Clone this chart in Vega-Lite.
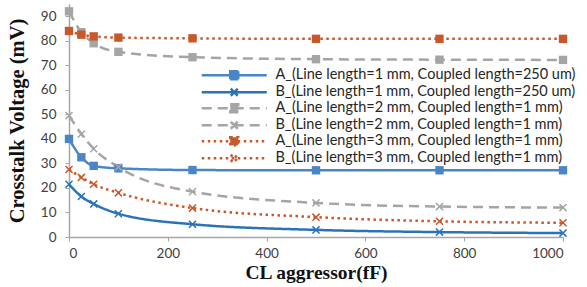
{
  "$schema": "https://vega.github.io/schema/vega-lite/v6.json",
  "width": 494,
  "height": 233,
  "autosize": {"type": "none"},
  "padding": {"left": 69, "top": 4, "right": 24, "bottom": 50},
  "background": "white",
  "config": {
    "view": {"stroke": null},
    "axis": {"grid": false, "domainColor": "#a6a6a6", "tickColor": "#a6a6a6", "domainWidth": 1.5, "tickSize": 4, "labelFont": "Lato", "labelFontSize": 13.5, "labelColor": "#404040", "titleFont": "Liberation Serif", "titleFontWeight": "bold", "titleFontSize": 19.5, "titleColor": "#111111"}
  },
  "data": {"values": [
    {"x": 0, "s": "A_(Line length=1 mm, Coupled length=250 um)", "m": "sq", "v": 40},
    {"x": 25, "s": "A_(Line length=1 mm, Coupled length=250 um)", "m": "sq", "v": 32.5},
    {"x": 50, "s": "A_(Line length=1 mm, Coupled length=250 um)", "m": "sq", "v": 29},
    {"x": 100, "s": "A_(Line length=1 mm, Coupled length=250 um)", "m": "sq", "v": 28},
    {"x": 250, "s": "A_(Line length=1 mm, Coupled length=250 um)", "m": "sq", "v": 27.3},
    {"x": 500, "s": "A_(Line length=1 mm, Coupled length=250 um)", "m": "sq", "v": 27.2},
    {"x": 750, "s": "A_(Line length=1 mm, Coupled length=250 um)", "m": "sq", "v": 27.2},
    {"x": 1000, "s": "A_(Line length=1 mm, Coupled length=250 um)", "m": "sq", "v": 27.2},
    {"x": 0, "s": "B_(Line length=1 mm, Coupled length=250 um)", "m": "x", "v": 21.5},
    {"x": 25, "s": "B_(Line length=1 mm, Coupled length=250 um)", "m": "x", "v": 16.5},
    {"x": 50, "s": "B_(Line length=1 mm, Coupled length=250 um)", "m": "x", "v": 13.5},
    {"x": 100, "s": "B_(Line length=1 mm, Coupled length=250 um)", "m": "x", "v": 9.5},
    {"x": 250, "s": "B_(Line length=1 mm, Coupled length=250 um)", "m": "x", "v": 5.2},
    {"x": 500, "s": "B_(Line length=1 mm, Coupled length=250 um)", "m": "x", "v": 2.9},
    {"x": 750, "s": "B_(Line length=1 mm, Coupled length=250 um)", "m": "x", "v": 2.0},
    {"x": 1000, "s": "B_(Line length=1 mm, Coupled length=250 um)", "m": "x", "v": 1.6},
    {"x": 0, "s": "A_(Line length=2 mm, Coupled length=1 mm)", "m": "sq", "v": 92},
    {"x": 25, "s": "A_(Line length=2 mm, Coupled length=1 mm)", "m": "sq", "v": 83.5},
    {"x": 50, "s": "A_(Line length=2 mm, Coupled length=1 mm)", "m": "sq", "v": 79},
    {"x": 100, "s": "A_(Line length=2 mm, Coupled length=1 mm)", "m": "sq", "v": 75.5},
    {"x": 250, "s": "A_(Line length=2 mm, Coupled length=1 mm)", "m": "sq", "v": 73.3},
    {"x": 500, "s": "A_(Line length=2 mm, Coupled length=1 mm)", "m": "sq", "v": 72.5},
    {"x": 750, "s": "A_(Line length=2 mm, Coupled length=1 mm)", "m": "sq", "v": 72.3},
    {"x": 1000, "s": "A_(Line length=2 mm, Coupled length=1 mm)", "m": "sq", "v": 72.2},
    {"x": 0, "s": "B_(Line length=2 mm, Coupled length=1 mm)", "m": "x", "v": 49.5},
    {"x": 25, "s": "B_(Line length=2 mm, Coupled length=1 mm)", "m": "x", "v": 42},
    {"x": 50, "s": "B_(Line length=2 mm, Coupled length=1 mm)", "m": "x", "v": 36},
    {"x": 100, "s": "B_(Line length=2 mm, Coupled length=1 mm)", "m": "x", "v": 28.5},
    {"x": 250, "s": "B_(Line length=2 mm, Coupled length=1 mm)", "m": "x", "v": 18.5},
    {"x": 500, "s": "B_(Line length=2 mm, Coupled length=1 mm)", "m": "x", "v": 13.9},
    {"x": 750, "s": "B_(Line length=2 mm, Coupled length=1 mm)", "m": "x", "v": 12.4},
    {"x": 1000, "s": "B_(Line length=2 mm, Coupled length=1 mm)", "m": "x", "v": 12},
    {"x": 0, "s": "A_(Line length=3 mm, Coupled length=1 mm)", "m": "sq", "v": 84},
    {"x": 25, "s": "A_(Line length=3 mm, Coupled length=1 mm)", "m": "sq", "v": 82.5},
    {"x": 50, "s": "A_(Line length=3 mm, Coupled length=1 mm)", "m": "sq", "v": 81.8},
    {"x": 100, "s": "A_(Line length=3 mm, Coupled length=1 mm)", "m": "sq", "v": 81.3},
    {"x": 250, "s": "A_(Line length=3 mm, Coupled length=1 mm)", "m": "sq", "v": 81},
    {"x": 500, "s": "A_(Line length=3 mm, Coupled length=1 mm)", "m": "sq", "v": 80.8},
    {"x": 750, "s": "A_(Line length=3 mm, Coupled length=1 mm)", "m": "sq", "v": 80.8},
    {"x": 1000, "s": "A_(Line length=3 mm, Coupled length=1 mm)", "m": "sq", "v": 80.8},
    {"x": 0, "s": "B_(Line length=3 mm, Coupled length=1 mm)", "m": "x", "v": 27.5},
    {"x": 25, "s": "B_(Line length=3 mm, Coupled length=1 mm)", "m": "x", "v": 24.3},
    {"x": 50, "s": "B_(Line length=3 mm, Coupled length=1 mm)", "m": "x", "v": 21.5},
    {"x": 100, "s": "B_(Line length=3 mm, Coupled length=1 mm)", "m": "x", "v": 18},
    {"x": 250, "s": "B_(Line length=3 mm, Coupled length=1 mm)", "m": "x", "v": 11.8},
    {"x": 500, "s": "B_(Line length=3 mm, Coupled length=1 mm)", "m": "x", "v": 8.1},
    {"x": 750, "s": "B_(Line length=3 mm, Coupled length=1 mm)", "m": "x", "v": 6.4},
    {"x": 1000, "s": "B_(Line length=3 mm, Coupled length=1 mm)", "m": "x", "v": 5.8}
  ]},
  "encoding": {
    "x": {"field": "x", "type": "quantitative", "scale": {"domain": [0, 1000], "nice": false}, "axis": {"values": [0, 200, 400, 600, 800, 1000], "format": "d", "title": "CL aggressor(fF)", "labelPadding": 5, "titlePadding": 4}},
    "y": {"field": "v", "type": "quantitative", "scale": {"domain": [0, 95], "nice": false}, "axis": {"values": [0, 10, 20, 30, 40, 50, 60, 70, 80, 90], "title": "Crosstalk Voltage (mV)", "labelPadding": 9, "titlePadding": 13, "titleFontSize": 20.5}},
    "color": {"field": "s", "type": "nominal", "title": null,
      "scale": {"domain": ["A_(Line length=1 mm, Coupled length=250 um)", "B_(Line length=1 mm, Coupled length=250 um)", "A_(Line length=2 mm, Coupled length=1 mm)", "B_(Line length=2 mm, Coupled length=1 mm)", "A_(Line length=3 mm, Coupled length=1 mm)", "B_(Line length=3 mm, Coupled length=1 mm)"],
        "range": ["#4a86c5", "#2a73b8", "#a5a5a5", "#a5a5a5", "#c8582a", "#c8582a"]},
      "legend": {"orient": "none", "legendX": 158, "legendY": 64, "labelFont": "Lato", "labelFontSize": 14.5, "labelColor": "#262626", "labelLimit": 500, "symbolSize": 100, "symbolStrokeWidth": 2.5, "symbolOpacity": 1, "labelOffset": 34, "rowPadding": -2.3, "padding": 0,
        "encode": {"symbols": {"update": {"fill": {"scale": "color", "field": "value"}, "opacity": {"value": 1}}}}}
    }
  },
  "layer": [
    {
      "mark": {"type": "line", "interpolate": "monotone", "strokeWidth": 2.5},
      "encoding": {
        "strokeDash": {"field": "s", "type": "nominal", "title": null,
          "scale": {"domain": ["A_(Line length=1 mm, Coupled length=250 um)", "B_(Line length=1 mm, Coupled length=250 um)", "A_(Line length=2 mm, Coupled length=1 mm)", "B_(Line length=2 mm, Coupled length=1 mm)", "A_(Line length=3 mm, Coupled length=1 mm)", "B_(Line length=3 mm, Coupled length=1 mm)"],
            "range": [[1, 0], [1, 0], [10, 6], [10, 6], [2.5, 3.5], [2.5, 3.5]]}}
      }
    },
    {
      "transform": [{"filter": "datum.m === 'sq'"}],
      "mark": {"type": "point", "shape": "square", "filled": true, "opacity": 1, "size": 70}
    },
    {
      "transform": [{"filter": "datum.m === 'x'"}],
      "mark": {"type": "point", "shape": "M-1,-1L1,1M-1,1L1,-1", "filled": false, "opacity": 1, "size": 50, "strokeWidth": 1.5}
    },
    {
      "mark": {"type": "point", "opacity": 0, "filled": true},
      "encoding": {
        "shape": {"field": "s", "type": "nominal", "title": null,
          "scale": {"domain": ["A_(Line length=1 mm, Coupled length=250 um)", "B_(Line length=1 mm, Coupled length=250 um)", "A_(Line length=2 mm, Coupled length=1 mm)", "B_(Line length=2 mm, Coupled length=1 mm)", "A_(Line length=3 mm, Coupled length=1 mm)", "B_(Line length=3 mm, Coupled length=1 mm)"],
            "range": ["M-6.5,0H6.5M-0.8,-0.8H0.8V0.8H-0.8Z", "M-6.5,0H6.5M-0.7,-0.7L0.7,0.7M-0.7,0.7L0.7,-0.7", "M-6.5,0H6.5M-0.8,-0.8H0.8V0.8H-0.8Z", "M-6.5,0H6.5M-0.7,-0.7L0.7,0.7M-0.7,0.7L0.7,-0.7", "M-6.5,0H6.5M-0.8,-0.8H0.8V0.8H-0.8Z", "M-6.5,0H6.5M-0.7,-0.7L0.7,0.7M-0.7,0.7L0.7,-0.7"]}},
        "strokeDash": {"field": "s", "type": "nominal", "title": null}
      }
    }
  ]
}
